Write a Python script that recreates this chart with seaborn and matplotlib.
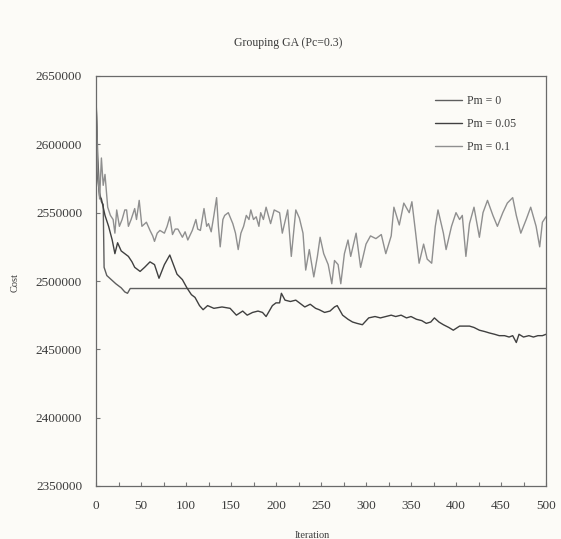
import matplotlib
matplotlib.use("Agg")
import matplotlib.pyplot as plt
from matplotlib.ticker import MultipleLocator
import seaborn as sns
import pandas as pd

# ---- data ----
series_names = ["Pm = 0", "Pm = 0.05", "Pm = 0.1"]

pm0_iter = [0, 2, 4, 6, 8, 9, 12, 17, 22, 28, 32, 35, 38, 500]
pm0_cost = [2635000, 2590000, 2565000, 2558000, 2556000, 2510000, 2504000,
            2501000, 2498000, 2495000, 2492000, 2491000, 2494500, 2494500]

pm005_iter = [0, 2, 4, 6, 10, 14, 18, 21, 24, 28, 32, 36, 40, 43, 49, 54, 60,
              65, 70, 76, 82, 86, 90, 96, 101, 106, 110, 115, 119, 124,
              131, 140, 149, 156, 163, 168, 174, 180, 185, 189, 196, 200, 204,
              206, 210, 216, 222, 226, 232, 238, 244, 248, 254, 260, 265, 268,
              274, 280, 285, 290, 296, 303, 310, 316, 322, 328, 333, 339, 345,
              350, 356, 362, 367, 372, 376, 381, 386, 392, 397, 404, 410, 415,
              420, 426, 432, 437, 443, 448, 454, 459, 463, 467, 470, 475, 481,
              486, 491, 496, 500]
pm005_cost = [2635000, 2575000, 2562000, 2560000, 2548000, 2540000, 2530000,
              2520000, 2528000, 2522000, 2520000, 2518000, 2514000, 2510000,
              2507000, 2510000, 2514000, 2512000, 2502000, 2512000, 2519000,
              2512000, 2505000, 2501000, 2495000, 2490000, 2488000,
              2482000, 2479000, 2482000, 2480000, 2481000, 2480000, 2475000,
              2478000, 2475000, 2477000, 2478000, 2477000, 2474000, 2482000,
              2484000, 2484000, 2491000, 2486000, 2485000, 2486000, 2484000,
              2481000, 2483000, 2480000, 2479000, 2477000, 2478000, 2481000,
              2482000, 2475000, 2472000, 2470000, 2469000, 2468000, 2473000,
              2474000, 2473000, 2474000, 2475000, 2474000, 2475000, 2473000,
              2474000, 2472000, 2471000, 2469000, 2470000, 2473000, 2470000,
              2468000, 2466000, 2464000, 2467000, 2467000, 2467000, 2466000,
              2464000, 2463000, 2462000, 2461000, 2460000, 2460000, 2459000,
              2460000, 2455000, 2461000, 2459000, 2460000, 2459000, 2460000,
              2460000, 2461000]

pm01_iter = [0, 2, 4, 6, 8, 10, 13, 16, 19, 21, 23, 26, 29, 32, 34, 36, 39,
             43, 45, 48, 51, 56, 60, 63, 65, 68, 71, 76, 79, 82, 85, 88, 91,
             96, 99, 102, 107, 111, 113, 116, 120, 123, 125, 128, 131, 134,
             136, 138, 141, 143, 147, 152, 155, 158, 161, 164, 167, 170, 172,
             175, 178, 181, 183, 186,
             189, 194, 198, 204, 207, 213, 217, 222, 226, 230,
             233, 237, 242, 246, 249, 253, 258, 262, 265, 269, 272, 276, 280,
             283, 289, 294, 300, 305, 311, 317, 322, 328, 331, 337, 342, 348,
             351, 355, 359, 364, 368, 373, 377, 380, 386, 389, 395, 400, 404,
             407, 411, 415, 420, 426, 430, 435, 441, 446, 452, 457, 463, 467,
             472, 478, 483, 489, 493, 496, 500]
pm01_cost = [2635000, 2580000, 2560000, 2590000, 2570000, 2578000, 2554000,
             2548000, 2545000, 2535000, 2552000, 2540000, 2545000, 2552000,
             2552000, 2540000, 2545000, 2553000, 2545000, 2559000, 2540000,
             2543000, 2537000, 2533000, 2529000, 2535000, 2537000, 2535000,
             2540000, 2547000, 2534000, 2538000, 2538000, 2532000, 2536000,
             2530000, 2537000, 2545000, 2538000, 2537000, 2553000, 2540000,
             2542000, 2536000, 2548000, 2561000, 2540000, 2525000, 2545000,
             2548000, 2550000, 2542000, 2535000, 2523000, 2535000, 2540000,
             2548000, 2545000, 2552000, 2545000, 2547000, 2540000, 2550000,
             2545000,
             2554000, 2542000, 2552000, 2550000, 2535000, 2552000, 2518000,
             2552000, 2546000, 2535000, 2508000, 2523000, 2503000, 2518000,
             2532000, 2520000, 2512000, 2498000, 2515000, 2512000, 2498000,
             2520000, 2530000, 2518000, 2535000, 2510000, 2527000, 2533000,
             2531000, 2534000, 2520000, 2533000, 2554000, 2541000, 2557000,
             2550000, 2558000, 2536000, 2513000, 2527000, 2516000, 2513000,
             2540000, 2552000, 2535000, 2523000, 2540000, 2550000, 2545000,
             2548000, 2518000, 2542000, 2554000, 2532000, 2550000, 2559000,
             2548000, 2540000, 2550000, 2557000, 2561000, 2548000, 2535000,
             2545000, 2554000, 2540000, 2525000, 2543000, 2547000]

x_ticks = [0, 50, 100, 150, 200, 250, 300, 350, 400, 450, 500]
y_ticks = [2350000, 2400000, 2450000, 2500000, 2550000, 2600000, 2650000]

df = pd.concat([
    pd.DataFrame({"Iteration": pm0_iter, "Cost": pm0_cost, "series": series_names[0]}),
    pd.DataFrame({"Iteration": pm005_iter, "Cost": pm005_cost, "series": series_names[1]}),
    pd.DataFrame({"Iteration": pm01_iter, "Cost": pm01_cost, "series": series_names[2]}),
], ignore_index=True)

# ---- styling ----
sns.set_theme(style="ticks")
bg = "#fcfbf7"
ink = "#3c3c3c"
plt.rcParams["font.family"] = ["Liberation Serif", "DejaVu Serif"]
plt.rcParams["text.color"] = ink
plt.rcParams["axes.labelcolor"] = ink
plt.rcParams["xtick.color"] = "#777777"
plt.rcParams["ytick.color"] = "#777777"
plt.rcParams["xtick.labelcolor"] = ink
plt.rcParams["ytick.labelcolor"] = ink

fig = plt.figure(figsize=(5.61, 5.39), dpi=100, facecolor=bg)
ax = fig.add_axes([96 / 561, 1 - 486 / 539, 450 / 561, 410 / 539])
ax.set_facecolor(bg)

palette = {"Pm = 0": "#5e5e5e", "Pm = 0.05": "#404040", "Pm = 0.1": "#8f8f8f"}
sns.lineplot(data=df, x="Iteration", y="Cost", hue="series", palette=palette,
             hue_order=series_names, linewidth=1.0, ax=ax, estimator=None,
             sort=False)

ax.set_xlim(0, 500)
ax.set_ylim(2350000, 2650000)
ax.set_xticks(x_ticks)
ax.set_yticks(y_ticks)
ax.xaxis.set_minor_locator(MultipleLocator(25))
ax.set_xticklabels([str(v) for v in x_ticks])
ax.set_yticklabels([str(v) for v in y_ticks])
ax.tick_params(axis="both", which="both", direction="in", length=3, width=0.8,
               labelsize=9.5)
ax.tick_params(axis="x", pad=10)
ax.tick_params(axis="y", pad=10)
ax.tick_params(axis="y", which="minor", left=False)
for s in ax.spines.values():
    s.set_color("#6a6a6a")
    s.set_linewidth(0.9)

ax.set_xlabel("Iteration", fontsize=7.5)
ax.set_ylabel("Cost", fontsize=7.5)
ax.xaxis.set_label_coords((312 - 96) / 450, -(531 - 486) / 410)
ax.yaxis.set_label_coords(-(96 - 20) / 450, (486 - 282) / 410)

fig.text(288 / 561, 1 - 43 / 539, "Grouping GA (Pc=0.3)", ha="center",
         va="center", fontsize=8.5, color=ink)

leg = ax.legend(loc="upper left", bbox_to_anchor=((435 - 96) / 450, (486 - 95) / 410),
                frameon=False, fontsize=8.5, handlelength=2.3, handletextpad=0.4,
                labelspacing=0.95, borderpad=0, borderaxespad=0)
for h in leg.get_lines():
    h.set_linewidth(1.0)

fig.savefig("out.png", dpi=100, facecolor=bg)
